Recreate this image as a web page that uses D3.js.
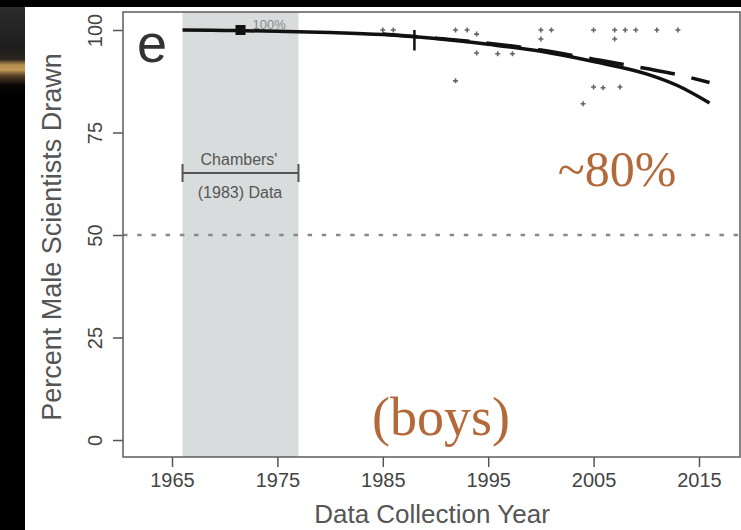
<!DOCTYPE html>
<html>
<head>
<meta charset="utf-8">
<script src="https://cdn.jsdelivr.net/npm/d3@7"></script>
<style>
body { margin: 0; background: #000; }
svg { display: block; }
</style>
</head>
<body>
<div id="chart"></div>
<script>
// values
var fitYears  = [1966, 1970, 1975, 1980, 1985, 1990, 1995, 2000, 2005, 2010, 2013, 2016];
var fitValues = [100, 99.9, 99.7, 99.4, 98.9, 97.9, 96.5, 94.8, 92.3, 89.3, 86.4, 82.2];
var dashYears  = [1985, 1990, 1995, 2000, 2005, 2010, 2013, 2016];
var dashValues = [99.0, 98.0, 96.8, 95.1, 92.9, 90.6, 89.1, 87.2];
var pointYears  = [1985.0, 1986.0, 1991.9, 1993.0, 1993.9, 1993.9, 1991.9, 1995.9, 1997.3,
                   2000.0, 2000.0, 2001.0, 2005.0, 2007.0, 2007.0, 2008.0, 2009.0, 2011.0,
                   2013.0, 2005.0, 2005.9, 2007.5, 2004.0];
var pointValues = [100, 100, 100, 100, 99, 94.4, 87.6, 94.2, 94.2,
                   100, 97.8, 100, 100, 100, 97.8, 100, 100, 100,
                   100, 86.1, 85.9, 86.1, 82.0];
var errYears = [1988];
var errLow   = [95];
var errHigh  = [100];
var chambersYear  = [1971.5];
var chambersValue = [100];
var chambersRange = [1966, 1977];
var xTicks = [1965, 1975, 1985, 1995, 2005, 2015];
var yTicks = [0, 25, 50, 75, 100];

var width = 741, height = 530;
var boxLeft = 123, boxRight = 740, boxTop = 12, boxBottom = 457;

var svg = d3.select('#chart').append('svg')
	.attr('width', width)
	.attr('height', height);

// slide background on the left
var grad = svg.append('defs').append('linearGradient')
	.attr('id', 'slide')
	.attr('x1', 0).attr('y1', 0).attr('x2', 0).attr('y2', 1);
[[0, '#2e2e2e'], [0.09, '#1e1e1e'], [0.112, '#2a251d'], [0.122, '#b38b4e'],
 [0.132, '#c49a58'], [0.142, '#5a4428'], [0.16, '#0a0806'], [0.18, '#000'], [1, '#000']]
	.forEach(function(s) {
		grad.append('stop').attr('offset', s[0]).attr('stop-color', s[1]);
	});
svg.append('rect').attr('x', 0).attr('y', 0).attr('width', 25).attr('height', height)
	.attr('fill', 'url(#slide)');
svg.append('rect').attr('x', 0).attr('y', 0).attr('width', width).attr('height', 7)
	.attr('fill', '#000');
svg.append('rect').attr('x', 25).attr('y', 7).attr('width', width - 25).attr('height', height - 7)
	.attr('fill', '#fff');

var x = d3.scaleLinear().domain([1965, 2015]).range([172, 699]);
var y = d3.scaleLinear().domain([0, 100]).range([440, 30]);

// Chambers' period shading
svg.append('rect')
	.attr('x', x(chambersRange[0]))
	.attr('y', boxTop)
	.attr('width', x(chambersRange[1]) - x(chambersRange[0]))
	.attr('height', boxBottom - boxTop)
	.attr('fill', '#d9dcdc');

// 50% reference line
svg.append('line')
	.attr('x1', boxLeft).attr('x2', width)
	.attr('y1', y(50)).attr('y2', y(50))
	.attr('stroke', '#888')
	.attr('stroke-width', 2.4)
	.attr('stroke-dasharray', '4.5,9.7');

// axes
var xAxis = svg.append('g')
	.attr('transform', 'translate(0,' + boxBottom + ')')
	.call(d3.axisBottom(x).tickValues(xTicks).tickFormat(d3.format('d')).tickSize(10).tickPadding(6));
var yAxis = svg.append('g')
	.attr('transform', 'translate(' + boxLeft + ',0)')
	.call(d3.axisLeft(y).tickValues(yTicks).tickSize(10));

[xAxis, yAxis].forEach(function(a) {
	a.select('.domain').remove();
	a.selectAll('line').attr('stroke', '#555').attr('stroke-width', 1.5);
	a.selectAll('text')
		.attr('fill', '#444')
		.style('font-family', '"Liberation Sans", Arial, sans-serif')
		.style('font-size', '20px');
});
yAxis.selectAll('text')
	.attr('text-anchor', 'middle')
	.attr('x', 0)
	.attr('y', -21)
	.attr('dy', 0)
	.attr('transform', 'rotate(-90)');

// plot box
svg.append('rect')
	.attr('x', boxLeft).attr('y', boxTop)
	.attr('width', boxRight - boxLeft).attr('height', boxBottom - boxTop)
	.attr('fill', 'none')
	.attr('stroke', '#666')
	.attr('stroke-width', 1.6);

// panel letter
svg.append('text')
	.attr('x', 137).attr('y', 62)
	.attr('fill', '#333')
	.style('font-family', '"Liberation Sans", Arial, sans-serif')
	.style('font-size', '54px')
	.text('e');

// Chambers' annotation
var ann = svg.append('g').attr('stroke', '#555').attr('stroke-width', 2);
ann.append('line')
	.attr('x1', x(chambersRange[0])).attr('x2', x(chambersRange[1]))
	.attr('y1', 173).attr('y2', 173);
chambersRange.forEach(function(d) {
	ann.append('line').attr('x1', x(d)).attr('x2', x(d)).attr('y1', 164).attr('y2', 182);
});
var annText = svg.append('g')
	.attr('fill', '#555')
	.attr('text-anchor', 'middle')
	.style('font-family', '"Liberation Sans", Arial, sans-serif')
	.style('font-size', '16px');
annText.append('text').attr('x', 239).attr('y', 165).text("Chambers'");
annText.append('text').attr('x', 240).attr('y', 198).text('(1983) Data');

// scatter points
svg.append('g').selectAll('path')
	.data(pointYears)
	.enter()
	.append('path')
	.attr('d', function(d, i) {
		var px = x(d), py = y(pointValues[i]);
		return 'M' + (px - 2.5) + ',' + py + 'H' + (px + 2.5) + 'M' + px + ',' + (py - 2.5) + 'V' + (py + 2.5);
	})
	.attr('stroke', '#666')
	.attr('stroke-width', 1.6);

// error bar
svg.append('g').selectAll('line')
	.data(errYears)
	.enter()
	.append('line')
	.attr('x1', d => x(d)).attr('x2', d => x(d))
	.attr('y1', (d, i) => y(errLow[i])).attr('y2', (d, i) => y(errHigh[i]))
	.attr('stroke', '#111')
	.attr('stroke-width', 2.5);

// fitted curves
var line = d3.line().curve(d3.curveMonotoneX);
svg.append('path')
	.attr('d', line(fitYears.map((d, i) => [x(d), y(fitValues[i])])))
	.attr('fill', 'none')
	.attr('stroke', '#111')
	.attr('stroke-width', 3.5);
svg.append('path')
	.attr('d', line(dashYears.map((d, i) => [x(d), y(dashValues[i])])))
	.attr('fill', 'none')
	.attr('stroke', '#111')
	.attr('stroke-width', 3.5)
	.attr('stroke-dasharray', '35,17');

// Chambers' mean
svg.append('g').selectAll('rect')
	.data(chambersYear)
	.enter()
	.append('rect')
	.attr('x', d => x(d) - 5)
	.attr('y', (d, i) => y(chambersValue[i]) - 5)
	.attr('width', 10).attr('height', 10)
	.attr('fill', '#111');
svg.append('text')
	.attr('x', x(chambersYear[0]) + 12)
	.attr('y', y(chambersValue[0]) - 1)
	.attr('fill', '#888')
	.style('font-family', '"Liberation Sans", Arial, sans-serif')
	.style('font-size', '13px')
	.text('100%');

// axis titles
svg.append('text')
	.attr('x', 432).attr('y', 523)
	.attr('text-anchor', 'middle')
	.attr('fill', '#555')
	.style('font-family', '"Liberation Sans", Arial, sans-serif')
	.style('font-size', '26px')
	.text('Data Collection Year');
svg.append('text')
	.attr('transform', 'translate(61,237) rotate(-90)')
	.attr('text-anchor', 'middle')
	.attr('fill', '#555')
	.style('font-family', '"Liberation Sans", Arial, sans-serif')
	.style('font-size', '27px')
	.text('Percent Male Scientists Drawn');

// slide annotations
var note = svg.append('g')
	.attr('fill', '#b3693a')
	.attr('text-anchor', 'middle')
	.style('font-family', '"Liberation Serif", "Times New Roman", serif');
note.append('text').attr('x', 617).attr('y', 186).style('font-size', '50px').text('~80%');
note.append('text').attr('x', 441).attr('y', 435).style('font-size', '54px').text('(boys)');
</script>
</body>
</html>
